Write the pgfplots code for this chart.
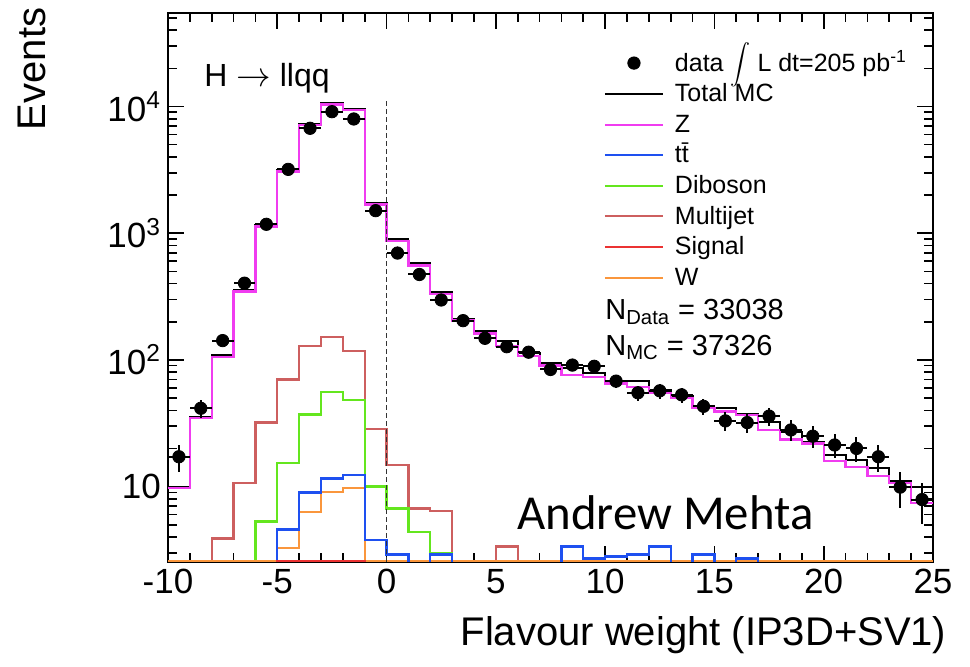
\documentclass[border=0pt]{standalone}
\usepackage{fontspec}
\setmainfont{Liberation Sans}
\newfontfamily\carlito{Carlito}
\usepackage{pgfplots}
\usepackage{pgfplotstable}
\pgfplotsset{compat=1.18}

\definecolor{zcol}{RGB}{240,60,240}
\definecolor{ttcol}{RGB}{30,80,240}
\definecolor{dibcol}{RGB}{100,230,30}
\definecolor{mjcol}{RGB}{205,95,95}
\definecolor{sigcol}{RGB}{235,50,50}
\definecolor{wcol}{RGB}{250,150,60}

% data points: bin centre, events, stat. error
\pgfplotstableread{
x y ey
-9.5 17.2 4.15
-8.5 41.5 6.44
-7.5 142 11.9
-6.5 403 20.1
-5.5 1175 34.3
-4.5 3190 56.5
-3.5 6730 82.0
-2.5 9100 95.4
-1.5 7970 89.3
-0.5 1506 38.8
0.5 697 26.4
1.5 472 21.7
2.5 297 17.2
3.5 204 14.3
4.5 148 12.2
5.5 127 11.3
6.5 115 10.7
7.5 84 9.17
8.5 91 9.54
9.5 89 9.43
10.5 68 8.25
11.5 55 7.42
12.5 57 7.55
13.5 53 7.28
14.5 43 6.56
15.5 33 5.74
16.5 32 5.66
17.5 36 6.00
18.5 28 5.29
19.5 25 5.00
20.5 21.3 4.62
21.5 20 4.47
22.5 17.2 4.15
23.5 9.9 3.15
24.5 7.9 2.81
}\datatab

% MC histograms: left bin edge (last row repeats the last bin)
\pgfplotstableread{
x tot z mj dib tt w sig
-10 10.0 9.7 0.01 0.01 0.01 2.6 0.01
-9 35.2 34.6 0.01 0.01 0.01 2.6 0.01
-8 109 105 3.9 0.01 0.01 2.6 0.01
-7 357 346 10.7 0.01 0.01 2.6 0.01
-6 1165 1127 32 5.3 0.01 2.6 0.01
-5 3150 3060 70 15.3 4.6 3.26 2.6
-4 7330 7150 129 37 9.0 6.3 2.6
-3 10620 10400 152 56 11.6 9.1 2.6
-2 9570 9380 118 48 12.4 9.7 2.6
-1 1740 1690 28.5 10 3.8 2.6 0.01
0 900 869 14.8 6.7 2.9 2.6 0.01
1 578 555 6.7 4.4 0.01 2.6 0.01
2 345 331 6.4 3.0 2.9 2.6 0.01
3 209 204 0.01 0.01 0.01 2.6 0.01
4 169 162 0.01 0.01 0.01 2.6 0.01
5 142 129 3.36 0.01 0.01 2.6 0.01
6 114 107 0.01 0.01 0.01 2.6 0.01
7 94 90 0.01 0.01 0.01 2.6 0.01
8 86 76 0.01 0.01 3.36 2.6 0.01
9 79 73 0.01 0.01 2.7 2.6 0.01
10 68 65 0.01 0.01 2.8 2.6 0.01
11 68 61 0.01 0.01 2.9 2.6 0.01
12 57.5 54.5 0.01 0.01 3.36 2.6 0.01
13 52 50 0.01 0.01 0.01 2.6 0.01
14 43 41.5 0.01 0.01 2.9 2.6 0.01
15 42 39 0.01 0.01 0.01 2.6 0.01
16 37.4 36.7 0.01 0.01 2.7 2.6 0.01
17 32.5 28 0.01 0.01 0.01 2.6 0.01
18 27 23.6 0.01 0.01 0.01 2.6 0.01
19 22.6 21.9 0.01 0.01 0.01 2.6 0.01
20 17.8 15.9 0.01 0.01 0.01 2.6 0.01
21 16.2 14.2 0.01 0.01 0.01 2.6 0.01
22 14 12.1 0.01 0.01 0.01 2.6 0.01
23 11.1 10.7 0.01 0.01 0.01 2.6 0.01
24 10 7.4 0.01 0.01 0.01 2.6 0.01
25 10 7.4 0.01 0.01 0.01 2.6 0.01
}\mctab

\pgfplotsset{
  datalegend/.style={legend image code/.code={%
    \path[draw=none, fill=none] (0pt,0pt) -- (29pt,0pt);
    \draw[black, mark=*, mark size=3.1pt, only marks] plot coordinates {(14.5pt,1.35pt)};}},
}

\begin{document}
\begin{tikzpicture}
\useasboundingbox (-84pt,-52.5pt) rectangle (401pt,281pt);
\begin{axis}[
  at={(0pt,0pt)}, anchor=south west,
  scale only axis, width=382.5pt, height=274.5pt,
  xmin=-10, xmax=25, ymin=2.54, ymax=54700,
  ymode=log,
  axis line style={line width=1pt},
  tick align=inside,
  major tick length=8pt, minor tick length=4.5pt,
  every tick/.style={black, line width=0.8pt},
  xtick={-10,-5,0,5,10,15,20,25},
  xticklabels={-10,-5,0,5,10,15,20,25},
  minor x tick num=4,
  ytick={10,100,1000,10000},
  yticklabels={10,10\textsuperscript{2},10\textsuperscript{3},10\textsuperscript{4}},
  minor ytick={3,4,5,6,7,8,9,20,30,40,50,60,70,80,90,200,300,400,500,600,700,800,900,2000,3000,4000,5000,6000,7000,8000,9000,20000,30000,40000,50000},
  ticklabel style={font=\fontsize{17.5}{20}\selectfont},
  xlabel={Flavour weight (IP3D+SV1)},
  xlabel style={font=\fontsize{20}{24}\selectfont, at={(rel axis cs:1.018,-0.133)}, anchor=east, inner sep=0pt},
  ylabel={Events},
  ylabel style={font=\fontsize{20}{24}\selectfont, at={(rel axis cs:-0.178,0.898)}, anchor=center, inner sep=0pt},
  legend image code/.code={\draw[#1] (0pt,1.15pt) -- (29pt,1.15pt);},
  legend style={at={(rel axis cs:0.5699,0.9317)}, anchor=north west, draw=none, fill=none,
    inner sep=0pt, outer sep=0pt, row sep=0pt, column sep=5.5pt,
    font=\fontsize{12.5}{15}\selectfont, cells={anchor=west},
    nodes={inner sep=0pt, text height=10.3pt, text depth=5pt}},
]
\addplot[forget plot, black, line width=1pt, const plot mark left] table[x=x, y=tot] {\mctab};
\addplot[forget plot, zcol, line width=1.2pt, const plot mark left] table[x=x, y=z] {\mctab};
\addplot[forget plot, mjcol, line width=1.2pt, const plot mark left] table[x=x, y=mj] {\mctab};
\addplot[forget plot, dibcol, line width=1.2pt, const plot mark left] table[x=x, y=dib] {\mctab};
\addplot[forget plot, wcol, line width=1.2pt, const plot mark left] table[x=x, y=w] {\mctab};
\addplot[forget plot, ttcol, line width=1.2pt, const plot mark left] table[x=x, y=tt] {\mctab};
\addplot[forget plot, sigcol, line width=1.2pt, const plot mark left] table[x=x, y=sig] {\mctab};
\addplot[forget plot, black!80, line width=0.9pt, dash pattern=on 2.5pt off 1.5pt] coordinates {(0,2.54) (0,11000)};
\addplot[forget plot, only marks, mark=*, mark size=3.1pt, black,
  error bars/.cd, x dir=both, x fixed=0.5, y dir=both, y explicit,
  error bar style={line width=1pt, black}, error mark=none]
  table[x=x, y=y, y error=ey] {\datatab};

\addlegendimage{datalegend}
\addlegendentry{data $\displaystyle\int$ L dt=205 pb\textsuperscript{-1}}
\addlegendimage{black, line width=1pt}
\addlegendentry{Total MC}
\addlegendimage{zcol, line width=1pt}
\addlegendentry{Z}
\addlegendimage{ttcol, line width=1pt}
\addlegendentry{t\={t}}
\addlegendimage{dibcol, line width=1pt}
\addlegendentry{Diboson}
\addlegendimage{mjcol, line width=1pt}
\addlegendentry{Multijet}
\addlegendimage{sigcol, line width=1pt}
\addlegendentry{Signal}
\addlegendimage{wcol, line width=1pt}
\addlegendentry{W}

\node[font=\fontsize{16}{19}\selectfont] at (rel axis cs:0.1294,0.8807) {H $\rightarrow$ llqq};
\node[anchor=base west, inner sep=0pt, font=\fontsize{14.5}{17}\selectfont] at (rel axis cs:0.5712,0.4408) {N\textsubscript{Data} = 33038};
\node[anchor=base west, inner sep=0pt, font=\fontsize{14.5}{17}\selectfont] at (rel axis cs:0.5712,0.3770) {N\textsubscript{MC} = 37326};
\node[anchor=base west, inner sep=0pt, font=\carlito\fontsize{24.4}{28}\selectfont] at (rel axis cs:0.4562,0.0583) {Andrew Mehta};
\end{axis}
\end{tikzpicture}
\end{document}
